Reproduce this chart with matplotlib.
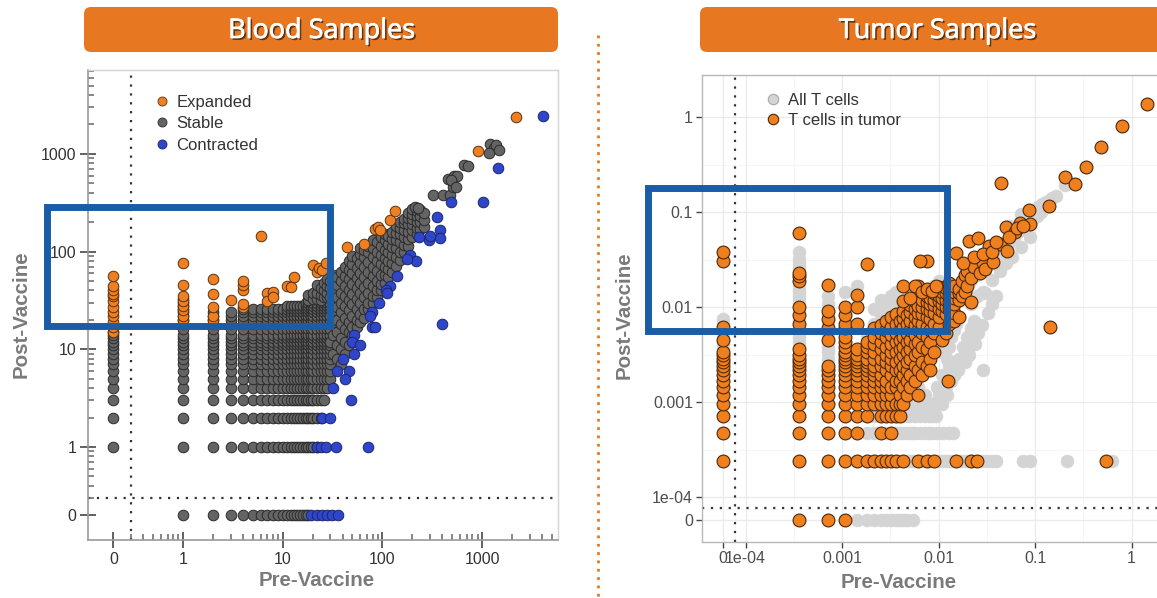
import numpy as np
import matplotlib
matplotlib.use("Agg")
import matplotlib.pyplot as plt
from matplotlib.patches import FancyBboxPatch, Rectangle
from matplotlib.lines import Line2D
import matplotlib.patheffects as pe
from matplotlib.ticker import FixedLocator, NullFormatter

plt.rcParams['font.family'] = ['Liberation Sans', 'DejaVu Sans']

# ====================== BLOOD SAMPLES (clone counts) ======================
posts_24 = [0, 1, 2, 3, 4, 5, 6, 7, 8, 9, 10, 11, 12, 13, 14, 16, 18, 20, 22, 24]
posts_26 = [0, 1, 2, 3, 4, 5, 6, 7, 8, 9, 10, 11, 12, 13, 14, 16, 18, 20, 22, 24, 26]
posts_28 = [0, 1, 2, 3, 4, 5, 6, 7, 8, 9, 10, 11, 12, 13, 14, 16, 18, 20, 22, 24, 26, 28]
posts_30 = [0, 1, 2, 3, 4, 5, 6, 7, 8, 9, 10, 11, 12, 13, 14, 16, 18, 20, 22, 24, 26, 28, 30]

# pre-vaccine count -> post-vaccine counts of stable clones
blood_stable_columns = {
    0: [1, 2, 3, 4, 5, 6, 7, 8, 9, 10, 11, 12, 13, 14, 15],
    1: [0, 1, 2, 3, 4, 5, 6, 7, 8, 9, 10, 11, 12, 13, 14, 16, 18, 20, 22, 24, 26, 28, 30, 33],
    2: posts_24, 3: posts_24,
    4: posts_26, 5: posts_26, 6: posts_26, 7: posts_26, 8: posts_26, 9: posts_26, 10: posts_26,
    11: posts_28, 12: posts_28, 13: posts_28, 14: posts_28, 15: posts_28, 16: posts_28,
    17: posts_30, 18: posts_30,
    19: posts_30[1:], 20: posts_30[1:], 22: posts_30[1:],
    24: posts_30[2:], 26: posts_30[3:], 28: posts_30[4:], 30: posts_30[5:],
}

blood_stable_cloud = [
    (18, 32), (18, 36), (20, 33), (20, 38), (22, 33), (22, 38), (22, 45), (24, 32), (24, 36), (24, 42),
    (26, 34), (26, 40), (26, 48), (28, 34), (28, 38), (28, 44), (28, 52),
    (30, 12), (30, 16), (30, 22), (30, 34), (30, 42), (30, 50),
    (32, 9), (32, 14), (32, 19), (32, 25), (32, 32), (32, 40), (32, 48), (32, 58),
    (35, 8), (35, 11), (35, 15), (35, 20), (35, 27), (35, 34), (35, 45), (35, 55),
    (38, 7), (38, 10), (38, 13), (38, 18), (38, 24), (38, 30), (38, 38), (38, 50), (38, 62),
    (42, 9), (42, 12), (42, 16), (42, 21), (42, 28), (42, 35), (42, 44), (42, 56), (42, 70),
    (46, 11), (46, 15), (46, 19), (46, 25), (46, 32), (46, 40), (46, 52), (46, 65), (46, 80),
    (50, 14), (50, 17), (50, 22), (50, 29), (50, 37), (50, 47), (50, 60), (50, 75), (50, 90),
    (55, 17), (55, 20), (55, 26), (55, 33), (55, 42), (55, 54), (55, 68), (55, 85),
    (60, 19), (60, 23), (60, 30), (60, 38), (60, 48), (60, 60), (60, 76), (60, 95), (60, 110),
    (66, 21), (66, 26), (66, 34), (66, 43), (66, 55), (66, 70), (66, 88), (66, 105),
    (72, 26), (72, 30), (72, 38), (72, 48), (72, 62), (72, 78), (72, 98), (72, 115),
    (80, 30), (80, 35), (80, 44), (80, 56), (80, 70), (80, 88), (80, 110), (80, 130),
    (88, 34), (88, 40), (88, 50), (88, 64), (88, 80), (88, 100), (88, 125),
    (96, 40), (96, 47), (96, 58), (96, 74), (96, 92), (96, 115), (96, 140),
    (105, 48), (105, 58), (105, 70), (105, 86), (105, 105), (105, 130), (105, 150),
    (115, 55), (115, 66), (115, 80), (115, 98), (115, 120), (115, 145),
    (125, 62), (125, 76), (125, 92), (125, 112), (125, 135), (125, 160),
    (138, 72), (138, 88), (138, 108), (138, 130), (138, 155), (138, 185),
    (150, 82), (150, 100), (150, 125), (150, 150), (150, 175), (150, 200),
    (165, 100), (165, 118), (165, 140), (165, 165), (165, 195), (165, 215),
    (180, 115), (180, 135), (180, 160), (180, 190), (180, 220), (180, 250),
    (200, 140), (200, 165), (200, 190), (200, 215), (200, 245), (200, 275),
    (220, 150), (220, 175), (220, 200), (220, 230), (220, 260),
    (240, 170), (240, 200), (240, 230), (240, 265), (260, 180), (260, 210), (260, 250),
    (212, 286), (228, 280), (322, 380), (405, 380), (476, 380), (510, 458), (455, 553),
    (520, 594), (560, 588), (658, 770), (725, 760), (490, 535), (543, 455),
    (1200, 1262), (1317, 1150), (1172, 1023), (1380, 1222), (1480, 1100),
]

blood_expanded = [
    (0, 15), (0, 17), (0, 19), (0, 22), (0, 24), (0, 27), (0, 31), (0, 35), (0, 37), (0, 40), (0, 44), (0, 56),
    (1, 20), (1, 22), (1, 25), (1, 28), (1, 31), (1, 35), (1, 45), (1, 76),
    (2, 20), (2, 22), (2, 27), (2, 37), (2, 52), (3, 32),
    (4, 27), (4, 29), (4, 40), (4, 46), (4, 50),
    (6, 144), (7, 38), (7, 31), (8, 39), (8, 34), (11, 44), (12, 43), (13, 55),
    (20, 73), (22, 62), (23, 68), (25, 65), (27, 77), (44, 111), (66, 120),
    (84, 170), (90, 178), (94, 166), (119, 210), (133, 260), (900, 1083), (2190, 2366),
]

blood_contracted = [
    (4090, 2464), (1450, 712), (1030, 320), (490, 320), (350, 227),
    (375, 165), (375, 137), (290, 131), (300, 145), (235, 140),
    (190, 92), (215, 80), (175, 84), (140, 56), (118, 44), (108, 40), (112, 38),
    (92, 30), (78, 24), (75, 22), (400, 18), (78, 17), (84, 17),
    (52, 14), (50, 12), (60, 11), (52, 9), (40, 8), (46, 6), (35, 6), (42, 5), (48, 3), (32, 4),
    (22, 1), (24, 1), (27, 1), (34, 1), (72, 1), (25, 2), (30, 2),
    (19, 0), (22, 0), (25, 0), (28, 0), (31, 0), (36, 0),
]

blood_tick_labels = ['0', '1', '10', '100', '1000']
blood_tick_values = [0, 1, 10, 100, 1000]

# ====================== TUMOR SAMPLES (clone counts) ======================
tumor_pre_total = 2800     # counts -> frequency (%) on the x axis
tumor_post_total = 4150    # counts -> frequency (%) on the y axis

# T cells in tumor on the low-count grid: pre count -> post counts
tumor_in_tumor_columns = {
    0: [1, 2, 3, 4, 5, 6, 7, 8, 9, 10, 11, 12, 13, 14, 19, 26, 128, 158],
    1: [0, 1, 2, 3, 4, 5, 6, 7, 8, 9, 10, 11, 12, 13, 15, 28, 34, 42, 78, 89, 96, 249],
    2: [0, 1, 2, 3, 4, 5, 6, 7, 8, 9, 10, 19, 25, 31, 38, 72],
    3: [0, 1, 2, 3, 4, 5, 6, 7, 8, 9, 10, 11, 12, 13, 14, 16, 18, 20, 25, 28, 34, 42],
    4: [1, 2, 3, 4, 5, 6, 7, 8, 9, 10, 11, 12, 13, 15, 28, 42, 56],
    5: [1, 3, 4, 5, 6, 7, 8, 9, 10, 11, 12, 14, 16, 18, 118],
    6: [1, 4, 5, 6, 7, 8, 9, 10, 12, 14, 17, 20, 25],
    7: [1, 2, 3, 4, 5, 6, 7, 8, 10, 12, 15, 18, 22, 27],
    8: [1, 3, 4, 5, 6, 7, 9, 11, 13, 16, 20, 24, 30],
    9: [1, 2, 3, 4, 5, 6, 8, 10, 12, 14, 17, 21, 26, 33],
    10: [1, 3, 4, 6, 7, 9, 11, 14, 18, 22, 28, 35],
    11: [3, 4, 5, 7, 9, 12, 15, 19, 24, 30],
    12: [1, 4, 6, 8, 10, 13, 16, 20, 26, 32, 38, 70],
    13: [5, 7, 9, 11, 14, 18, 22, 28, 34],
    14: [6, 8, 12, 15, 19, 24, 30, 37, 44],
    16: [7, 10, 13, 17, 21, 27, 33, 40, 48],
    17: [1, 5, 9, 14, 18, 24, 30, 36, 43, 70],
    19: [8, 11, 16, 22, 28, 35, 42, 50],
    21: [1, 10, 15, 20, 26, 33, 40, 47, 55, 128],
    23: [12, 18, 24, 31, 38, 45, 52],
    25: [1, 14, 22, 28, 36, 44, 50, 58],
}

tumor_in_tumor_extra = [
    (28, 26), (28, 33), (28, 40), (28, 48), (28, 55), (28, 68), (30, 19), (30, 38), (30, 45),
    (30, 52), (30, 60), (33, 22), (33, 35), (33, 42), (33, 50), (33, 58), (33, 66), (35, 7),
    (36, 28), (36, 40), (36, 47), (36, 55), (36, 64), (36, 75), (40, 30), (40, 36), (40, 45),
    (40, 52), (40, 60), (40, 70), (42, 1), (42, 155), (45, 33), (45, 50), (45, 58), (45, 64),
    (49, 54), (49, 79), (52, 60), (52, 90), (55, 70), (55, 100), (58, 208), (60, 1), (61, 47),
    (61, 85), (65, 110), (70, 1), (72, 224), (75, 95), (80, 120), (85, 105), (94, 184),
    (103, 125), (122, 193), (138, 292), (144, 163), (171, 258), (197, 321), (245, 314),
    (239, 435), (390, 480), (395, 26), (570, 975), (720, 825), (950, 1230), (1350, 2000),
    (2200, 3350), (4000, 5700), (1534, 1), (125, 845), (23, 9), (18, 128), (16, 70),
    (19, 60), (21, 65), (24, 62), (26, 70), (12, 48), (14, 52), (50, 120), (65, 140),
    (80, 150), (100, 160), (110, 200), (150, 230), (180, 280), (210, 300),
]

# all T cells (shown grey, underneath)
tumor_all_extra = [
    (4, 0), (5, 0), (6, 0), (7, 0), (8, 0), (9, 0), (10, 0), (11, 0), (12, 0), (13, 0), (15, 0),
    (11, 1), (13, 1), (14, 1), (15, 1), (18, 1), (19, 1), (22, 1), (23, 1), (27, 1), (30, 1),
    (33, 1), (36, 1), (38, 1), (48, 1), (52, 1), (56, 1), (64, 1), (80, 1), (90, 1), (100, 1),
    (111, 1), (211, 1), (248, 1), (594, 1), (1744, 1),
    (5, 2), (6, 2), (8, 2), (9, 2), (10, 2), (11, 2), (12, 2), (13, 2), (14, 2), (15, 2),
    (16, 2), (18, 2), (20, 2), (22, 2), (24, 2), (27, 2), (31, 2), (36, 2), (39, 2),
    (5, 3), (6, 3), (8, 3), (10, 3), (11, 3), (12, 3), (13, 3), (14, 3), (16, 3), (18, 3),
    (20, 3), (22, 3), (24, 3),
    (6, 4), (8, 4), (9, 4), (10, 4), (12, 4), (14, 4), (16, 4), (18, 4), (20, 4), (22, 4), (25, 4),
    (0, 15), (0, 16), (0, 17), (0, 18), (0, 20), (0, 22), (0, 24), (0, 28), (0, 31),
    (1, 16), (1, 18), (1, 20), (1, 22), (1, 25), (1, 30), (1, 38), (1, 46), (1, 50), (1, 55),
    (1, 60), (1, 65), (1, 70), (1, 85), (1, 100), (1, 110), (1, 120), (1, 135), (1, 158),
    (2, 12), (2, 14), (2, 16), (2, 22), (2, 28), (2, 35), (2, 45), (2, 54),
    (5, 20), (6, 28), (6, 40), (7, 35), (8, 45), (9, 54), (10, 48), (12, 52), (14, 55),
    (8, 25), (11, 30), (13, 40), (16, 58), (18, 62), (20, 60), (22, 65), (25, 70), (28, 78),
    (18, 14), (20, 17), (22, 12), (24, 20), (26, 16), (28, 22), (30, 14), (32, 18), (34, 12),
    (36, 16), (38, 20), (40, 24), (42, 28), (36, 10), (45, 33), (30, 8), (27, 6), (33, 6),
    (40, 8), (46, 12), (50, 16), (55, 20), (60, 25), (65, 30), (81, 9), (24, 4), (20, 5), (28, 5),
    (50, 60), (55, 70), (60, 80), (70, 90), (80, 100), (90, 115), (100, 130), (110, 150),
    (120, 165), (130, 180), (150, 200), (170, 230), (190, 260), (210, 280), (230, 310),
    (260, 340), (290, 380), (320, 420), (350, 470), (380, 520), (420, 580), (460, 620),
    (600, 900), (80, 60), (100, 80), (120, 100), (140, 120), (160, 140), (200, 180),
    (250, 230), (60, 45), (70, 55), (84, 58), (200, 400), (150, 300), (250, 420), (300, 470),
    (330, 500), (360, 530), (400, 560), (569, 797),
    (3, 60), (4, 70), (7, 50), (10, 60), (15, 45), (9, 20), (12, 26), (6, 14), (7, 9),
    (11, 7), (14, 9), (17, 6), (19, 4), (26, 3), (30, 4), (34, 5), (38, 7), (44, 9),
    (52, 11), (58, 13), (66, 17), (72, 22), (78, 27), (90, 36), (100, 45), (110, 55),
]

tumor_tick_labels = ['0', '1e-04', '0.001', '0.01', '0.1', '1']
tumor_tick_values = [0, 1e-4, 0.001, 0.01, 0.1, 1]

# ====================== styling constants ======================
W, H, DPI = 1157, 598, 100
BLOOD_ZERO, BLOOD_CUT = 0.2, 0.3
TUMOR_ZERO, TUMOR_CUT = 5.85e-5, 7.8e-5
ORANGE = '#EE7F22'
BANNER = '#E87722'
BOXBLUE = '#1A5DA6'
STABLE = '#646464'


def place(vals, zero):
    v = np.asarray(vals, dtype=float)
    return np.where(v == 0, zero, v)


def pairs_from_columns(cols):
    return [(k, m) for k, ms in cols.items() for m in ms]


fig = plt.figure(figsize=(W / DPI, H / DPI), dpi=DPI)
fig.patch.set_facecolor('white')


def frac_rect(x0, x1, ytop, ybot):
    return [x0 / W, 1 - ybot / H, (x1 - x0) / W, (ybot - ytop) / H]


# ---------------- Blood panel ----------------
axb = fig.add_axes(frac_rect(88, 558, 70, 540))
axb.set_xscale('log')
axb.set_yscale('log')
axb.set_xlim(0.1114, 5770)
axb.set_ylim(0.1117, 7225)

stable = np.array(pairs_from_columns(blood_stable_columns) + blood_stable_cloud, dtype=float)
exp_ = np.array(blood_expanded, dtype=float)
con = np.array(blood_contracted, dtype=float)
axb.scatter(place(stable[:, 0], BLOOD_ZERO), place(stable[:, 1], BLOOD_ZERO), s=58,
            c=STABLE, edgecolors='#2a2a2a', linewidths=0.7, zorder=2)
axb.scatter(place(exp_[:, 0], BLOOD_ZERO), place(exp_[:, 1], BLOOD_ZERO), s=58,
            c=ORANGE, edgecolors='#5a3210', linewidths=0.7, zorder=3)
axb.scatter(place(con[:, 0], BLOOD_ZERO), place(con[:, 1], BLOOD_ZERO), s=58,
            c='#2F46C8', edgecolors='#1b2670', linewidths=0.7, zorder=3)

axb.axvline(BLOOD_CUT, color='#333333', lw=1.6, ls=(0, (1, 3)), zorder=1)
axb.axhline(BLOOD_CUT, color='#333333', lw=1.6, ls=(0, (1, 3)), zorder=1)

btick = place(blood_tick_values, BLOOD_ZERO)
axb.set_xticks(btick)
axb.set_xticklabels(blood_tick_labels)
axb.set_yticks(btick)
axb.set_yticklabels(blood_tick_labels)
minor_x = [m * 10.0 ** e for e in range(-1, 4) for m in range(2, 10) if 0.25 < m * 10.0 ** e < 5800]
minor_y = [m * 10.0 ** e for e in range(-1, 4) for m in range(2, 10) if 0.25 < m * 10.0 ** e < 7200]
axb.xaxis.set_minor_locator(FixedLocator(minor_x))
axb.yaxis.set_minor_locator(FixedLocator(minor_y))
axb.xaxis.set_minor_formatter(NullFormatter())
axb.yaxis.set_minor_formatter(NullFormatter())
axb.tick_params(which='major', direction='inout', length=11, width=1.3, color='#555555',
                labelsize=11.5, labelcolor='#333333', pad=3)
axb.tick_params(which='minor', direction='in', length=4, width=1.1, color='#666666')
for side in ('left', 'bottom'):
    axb.spines[side].set_color('#9a9a9a')
    axb.spines[side].set_linewidth(1.2)
for side in ('top', 'right'):
    axb.spines[side].set_color('#d4d4d4')
    axb.spines[side].set_linewidth(1.0)

axb.set_xlabel('Pre-Vaccine', fontsize=14.8, fontweight='bold', color='#7a7a7a')
axb.set_ylabel('Post-Vaccine', fontsize=14.8, fontweight='bold', color='#7a7a7a')
axb.xaxis.set_label_coords((317 - 88) / 470, -(571 - 540) / 470)
axb.yaxis.set_label_coords((31 - 88) / 470, (540 - 314) / 470)

hb = [Line2D([], [], ls='none', marker='o', ms=6.5, mfc=ORANGE, mec='#5a3210', mew=0.6),
      Line2D([], [], ls='none', marker='o', ms=6.5, mfc=STABLE, mec='#2a2a2a', mew=0.6),
      Line2D([], [], ls='none', marker='o', ms=6.5, mfc='#2F46C8', mec='#1b2670', mew=0.6)]
axb.legend(hb, ['Expanded', 'Stable', 'Contracted'], loc='upper left',
           bbox_to_anchor=((154 - 88) / 470, (540 - 95) / 470), frameon=False,
           borderpad=0, borderaxespad=0, handlelength=1.0, handletextpad=0.35,
           labelspacing=0.38, fontsize=12, labelcolor='#333333')

# ---------------- Tumor panel ----------------
axt = fig.add_axes(frac_rect(702, 1172, 75, 542))
axt.set_xscale('log')
axt.set_yscale('log')
axt.set_xlim(3.52e-5, 2.62)
axt.set_ylim(3.4e-5, 2.77)

tin = np.array(pairs_from_columns(tumor_in_tumor_columns) + tumor_in_tumor_extra, dtype=float)
tall = np.vstack([np.array(tumor_all_extra, dtype=float), tin])
axt.scatter(place(tall[:, 0] / tumor_pre_total, TUMOR_ZERO),
            place(tall[:, 1] / tumor_post_total, TUMOR_ZERO),
            s=85, c='#D4D4D4', edgecolors='#D4D4D4', linewidths=0.5, zorder=2)
axt.scatter(place(tin[:, 0] / tumor_pre_total, TUMOR_ZERO),
            place(tin[:, 1] / tumor_post_total, TUMOR_ZERO),
            s=85, c='#F07F1E', edgecolors='#4a2a0e', linewidths=0.8, zorder=3)

axt.axvline(TUMOR_CUT, color='#333333', lw=1.6, ls=(0, (1, 3)), zorder=1)
axt.axhline(TUMOR_CUT, color='#333333', lw=1.6, ls=(0, (1, 3)), zorder=1)

ttick = place(tumor_tick_values, TUMOR_ZERO)
axt.set_xticks(ttick)
axt.set_xticklabels(tumor_tick_labels)
axt.set_yticks(ttick)
axt.set_yticklabels(tumor_tick_labels)
mid = [np.sqrt(a * b) for a, b in zip(ttick[:-1], ttick[1:])]
axt.xaxis.set_minor_locator(FixedLocator(mid))
axt.yaxis.set_minor_locator(FixedLocator(mid))
axt.xaxis.set_minor_formatter(NullFormatter())
axt.yaxis.set_minor_formatter(NullFormatter())
axt.tick_params(which='major', direction='out', length=4, width=1.0, color='#444444',
                labelsize=11.5, labelcolor='#4d4d4d', pad=2.5)
axt.tick_params(which='minor', length=0)
axt.grid(which='major', color='#ebebeb', lw=1.0)
axt.grid(which='minor', color='#f5f5f5', lw=0.6)
axt.set_axisbelow(True)
for side in axt.spines:
    axt.spines[side].set_color('#b8b8b8')
    axt.spines[side].set_linewidth(1.0)

axt.set_xlabel('Pre-Vaccine', fontsize=14.8, fontweight='bold', color='#7a7a7a')
axt.set_ylabel('Post-Vaccine', fontsize=14.8, fontweight='bold', color='#7a7a7a')
axt.xaxis.set_label_coords((899 - 702) / 470, -(573 - 542) / 467)
axt.yaxis.set_label_coords((634 - 702) / 470, (542 - 315) / 467)

ht = [Line2D([], [], ls='none', marker='o', ms=7.5, mfc='#D4D4D4', mec='#a8a8a8', mew=0.8),
      Line2D([], [], ls='none', marker='o', ms=7.5, mfc='#F07F1E', mec='#4a2a0e', mew=0.8)]
axt.legend(ht, ['All T cells', 'T cells in tumor'], loc='upper left',
           bbox_to_anchor=((765 - 702) / 470, (542 - 93) / 467), frameon=False,
           borderpad=0, borderaxespad=0, handlelength=1.0, handletextpad=0.35,
           labelspacing=0.32, fontsize=12, labelcolor='#333333')

# ---------------- overlay: banners, highlight boxes, separator ----------------
ov = fig.add_axes([0, 0, 1, 1], zorder=10)
ov.set_xlim(0, W)
ov.set_ylim(H, 0)
ov.set_axis_off()
ov.patch.set_alpha(0)

for x0, x1 in [(84, 558), (700, 1190)]:
    ov.add_patch(FancyBboxPatch((x0, 7), x1 - x0, 45, boxstyle='round,pad=0,rounding_size=7',
                                fc=BANNER, ec='none'))
for cx, title in [(322, 'Blood Samples'), (938, 'Tumor Samples')]:
    ov.text(cx, 31, title, ha='center', va='center', fontsize=19.5, color='white',
            family=['Open Sans', 'DejaVu Sans'],
            path_effects=[pe.SimplePatchShadow(offset=(1.4, -1.4), shadow_rgbFace='#4a2a10', alpha=0.85),
                          pe.Stroke(linewidth=0.5, foreground='white'),
                          pe.Normal()])

ov.add_patch(Rectangle((46.5, 207), 283, 119, fill=False, ec=BOXBLUE, lw=5))
ov.add_patch(Rectangle((647.5, 188), 299, 143, fill=False, ec=BOXBLUE, lw=5))
ov.add_line(Line2D([598, 598], [35, 598], color=BANNER, lw=2, ls=(0, (1, 2))))

fig.savefig('out.png', dpi=DPI)
